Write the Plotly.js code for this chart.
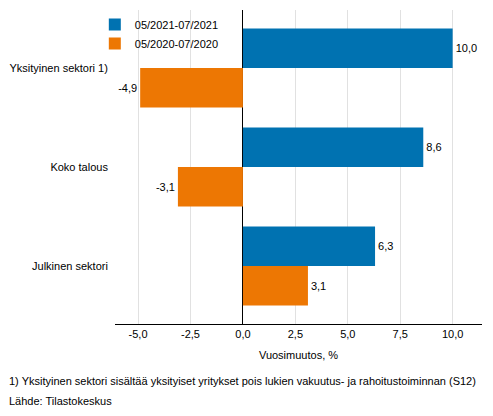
<!DOCTYPE html>
<html><head><meta charset="utf-8">
<script src="https://cdn.plot.ly/plotly-3.0.1.min.js"></script>
<style>html,body{margin:0;padding:0;background:#fff}</style>
</head><body><div id="chart" style="width:493px;height:416px"></div>
<script>
const categories = ["Yksityinen sektori 1)", "Koko talous", "Julkinen sektori"];
const series2021 = [10.0, 8.6, 6.3];
const series2020 = [-4.9, -3.1, 3.1];
const seriesNames = ["05/2021-07/2021", "05/2020-07/2020"];
const tickVals = [-5, -2.5, 0, 2.5, 5, 7.5, 10];
const footnote = "1) Yksityinen sektori sisältää yksityiset yritykset pois lukien vakuutus- ja rahoitustoiminnan (S12)";
const source = "Lähde: Tilastokeskus";

const fmt = v => v.toFixed(1).replace('.', ',');
const font = {family: "Liberation Sans, Arial, sans-serif", size: 11, color: "#000"};

const traces = [
  {type: "bar", orientation: "h", name: seriesNames[0], y: categories, x: series2021,
   text: series2021.map(fmt), textposition: "outside", cliponaxis: false,
   textfont: font, marker: {color: "#0072B1"}, hoverinfo: "x"},
  {type: "bar", orientation: "h", name: seriesNames[1], y: categories, x: series2020,
   text: series2020.map(fmt), textposition: "outside", cliponaxis: false,
   textfont: font, marker: {color: "#ED7703"}, hoverinfo: "x"}
];

const layout = {
  width: 493, height: 416,
  margin: {l: 115, r: 11, t: 10, b: 92},
  paper_bgcolor: "#fff", plot_bgcolor: "#fff",
  font: font,
  separators: ", ",
  barmode: "group", bargap: 0.2, bargroupgap: 0,
  showlegend: true,
  legend: {x: -0.055, xanchor: "left", y: 1.0, yanchor: "top", bgcolor: "rgba(0,0,0,0)",
           font: font, traceorder: "normal", tracegroupgap: 0, borderwidth: 0},
  xaxis: {range: [-6.1, 11.4], tickvals: tickVals, ticktext: tickVals.map(fmt),
          showgrid: true, gridcolor: "#e1e1e1", gridwidth: 1,
          zeroline: true, zerolinecolor: "#000", zerolinewidth: 1,
          showline: true, linecolor: "#000", linewidth: 1, ticks: "",
          tickfont: font, fixedrange: true,
          title: {text: "Vuosimuutos, %", font: font, standoff: 12}},
  yaxis: {range: [2.586, -0.586], showgrid: false, zeroline: false, showline: false,
          ticks: "", tickfont: font, ticksuffix: "  ", fixedrange: true},
  annotations: [
    {xref: "paper", yref: "paper", x: -0.293, y: -0.1815, xanchor: "left", yanchor: "middle",
     text: footnote, showarrow: false, font: font},
    {xref: "paper", yref: "paper", x: -0.293, y: -0.245, xanchor: "left", yanchor: "middle",
     text: source, showarrow: false, font: font}
  ]
};
Plotly.newPlot("chart", traces, layout, {displayModeBar: false, staticPlot: true});
</script></body></html>
